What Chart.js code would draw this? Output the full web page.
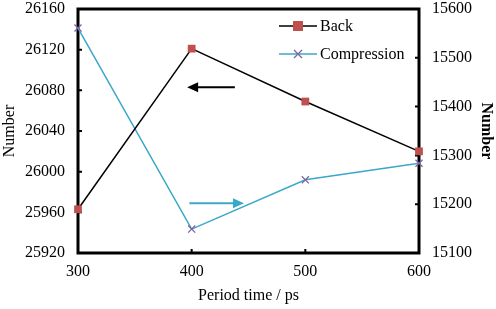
<!DOCTYPE html>
<html>
<head>
<meta charset="utf-8">
<script src="https://cdn.jsdelivr.net/npm/chart.js@4/dist/chart.umd.min.js"></script>
<style>
  html, body { margin: 0; padding: 0; background: #fff; }
  #wrap { width: 496px; height: 309px; }
</style>
</head>
<body>
<div id="wrap"><canvas id="chart" width="496" height="309"></canvas></div>
<script>
const periods = [300, 400, 500, 600];
const backValues = [25963, 26121, 26069, 26020];
const compressionValues = [15561, 15149, 15250, 15284];
const seriesNames = ['Back', 'Compression'];
// arrows: [xFrom, xTo, value, axis]
const arrowBack = [438, 396, 26083, 'y'];
const arrowCompression = [398, 446, 15202, 'y1'];

const FONT = 'Liberation Serif';
const BLUE = '#3aa8c8';
const RED = '#c0504d';
const PURPLE = '#8064a2';

function drawMarker(c, kind, x, y) {
    if (kind === 'square') {
        c.fillStyle = RED;
        c.fillRect(x - 5, y - 5, 10, 10);
    } else {
        c.strokeStyle = PURPLE;
        c.lineWidth = 1.3;
        c.beginPath();
        c.moveTo(x - 4, y - 4); c.lineTo(x + 4, y + 4);
        c.moveTo(x + 4, y - 4); c.lineTo(x - 4, y + 4);
        c.stroke();
    }
}

const decor = {
    id: 'decor',
    beforeDatasetsDraw(chart) {
        const c = chart.ctx;
        const a = chart.chartArea;
        const sx = chart.scales.x, sy = chart.scales.y, sy1 = chart.scales.y1;
        c.save();
        // inward ticks
        c.strokeStyle = '#000';
        c.lineWidth = 2;
        c.beginPath();
        sy.ticks.forEach(t => { const p = sy.getPixelForValue(t.value); c.moveTo(a.left, p); c.lineTo(a.left + 4, p); });
        sy1.ticks.forEach(t => { const p = sy1.getPixelForValue(t.value); c.moveTo(a.right, p); c.lineTo(a.right - 4, p); });
        sx.ticks.forEach(t => { const p = sx.getPixelForValue(t.value); c.moveTo(p, a.bottom); c.lineTo(p, a.bottom - 4); });
        c.stroke();
        // frame
        c.lineWidth = 3;
        c.strokeRect(a.left, a.top, a.right - a.left, a.bottom - a.top);
        // arrows
        [[arrowBack, '#000'], [arrowCompression, BLUE]].forEach(([ar, col]) => {
            const sc = chart.scales[ar[3]];
            const x0 = sx.getPixelForValue(ar[0]), x1 = sx.getPixelForValue(ar[1]);
            const y = sc.getPixelForValue(ar[2]);
            const dir = Math.sign(x1 - x0);
            c.strokeStyle = col; c.fillStyle = col; c.lineWidth = 2;
            c.beginPath(); c.moveTo(x0, y); c.lineTo(x1 - dir * 10, y); c.stroke();
            c.beginPath();
            c.moveTo(x1, y); c.lineTo(x1 - dir * 11, y - 5); c.lineTo(x1 - dir * 11, y + 5);
            c.closePath(); c.fill();
        });
        // legend
        const items = [[seriesNames[0], '#000', 'square', 26], [seriesNames[1], BLUE, 'cross', 54]];
        c.font = '16px "' + FONT + '"';
        c.textBaseline = 'middle';
        items.forEach(([label, col, kind, y]) => {
            c.strokeStyle = col; c.lineWidth = 1.5;
            c.beginPath(); c.moveTo(279, y); c.lineTo(317, y); c.stroke();
            drawMarker(c, kind, 298, y);
            c.fillStyle = '#000';
            c.fillText(label, 320, y + 1);
        });
        c.restore();
    }
};

const plain = v => String(v);
const noPad = s => { s.paddingTop = 0; s.paddingBottom = 0; s.paddingLeft = 0; s.paddingRight = 0; };

new Chart(document.getElementById('chart'), {
    type: 'line',
    data: {
        datasets: [
            {
                label: seriesNames[0],
                data: periods.map((p, i) => ({ x: p, y: backValues[i] })),
                yAxisID: 'y',
                borderColor: '#000',
                borderWidth: 1.5,
                pointStyle: 'rect',
                pointRadius: 5.5,
                pointBackgroundColor: RED,
                pointBorderColor: RED,
                pointBorderWidth: 0,
                tension: 0,
                clip: false
            },
            {
                label: seriesNames[1],
                data: periods.map((p, i) => ({ x: p, y: compressionValues[i] })),
                yAxisID: 'y1',
                borderColor: BLUE,
                borderWidth: 1.5,
                pointStyle: 'crossRot',
                pointRadius: 5,
                pointBorderColor: PURPLE,
                pointBorderWidth: 1.3,
                tension: 0,
                clip: false
            }
        ]
    },
    options: {
        responsive: false,
        animation: false,
        layout: { padding: { top: 9, left: 0, right: 0, bottom: 0 } },
        plugins: { legend: { display: false }, tooltip: { enabled: false } },
        scales: {
            x: {
                type: 'linear', min: 300, max: 600,
                ticks: { stepSize: 100, color: '#000', font: { family: FONT, size: 16 }, padding: 9, callback: plain },
                grid: { display: false, drawTicks: false },
                border: { display: false },
                title: { display: true, text: 'Period time / ps', color: '#000', font: { family: FONT, size: 16 }, padding: { top: 6 } },
                afterFit(s) { s.height = 56; noPad(s); }
            },
            y: {
                position: 'left', min: 25920, max: 26160,
                ticks: { stepSize: 40, color: '#000', font: { family: FONT, size: 16 }, padding: 13, callback: plain },
                grid: { display: false, drawTicks: false },
                border: { display: false },
                title: { display: true, text: 'Number', color: '#000', font: { family: FONT, size: 16 }, padding: 0 },
                afterFit(s) { s.width = 78; noPad(s); }
            },
            y1: {
                position: 'right', min: 15100, max: 15600,
                ticks: { stepSize: 100, color: '#000', font: { family: FONT, size: 16 }, padding: 13, callback: plain },
                grid: { display: false, drawTicks: false },
                border: { display: false },
                title: { display: true, text: 'Number', color: '#000', font: { family: FONT, size: 16, weight: 'bold' }, padding: 0 },
                afterFit(s) { s.width = 77; noPad(s); }
            }
        }
    },
    plugins: [decor]
});
</script>
</body>
</html>
